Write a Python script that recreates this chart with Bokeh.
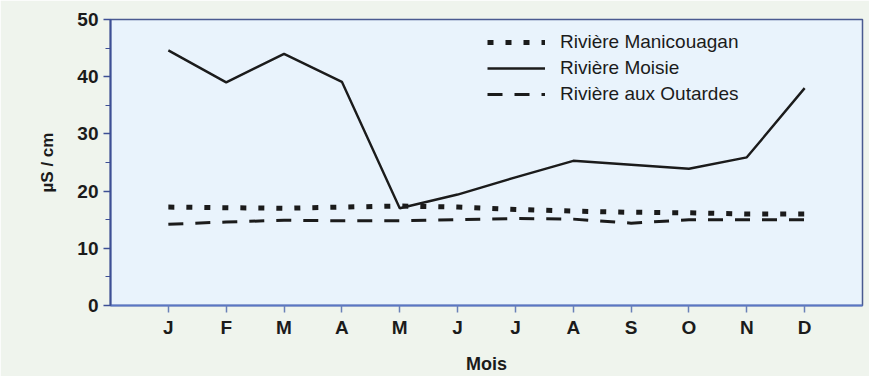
from bokeh.plotting import figure
from bokeh.models import Legend, LegendItem, FixedTicker, Range1d
from bokeh.embed import file_html
from bokeh.resources import INLINE

months = ["J", "F", "M", "A", "M", "J", "J", "A", "S", "O", "N", "D"]
month_pos = [1, 2, 3, 4, 5, 6, 7, 8, 9, 10, 11, 12]
manicouagan = [17.2, 17.1, 17.0, 17.2, 17.4, 17.2, 16.8, 16.5, 16.3, 16.2, 16.0, 16.0]
moisie = [44.6, 39.0, 44.0, 39.1, 17.0, 19.4, 22.4, 25.3, 24.6, 23.9, 25.9, 38.0]
outardes = [14.2, 14.6, 14.9, 14.8, 14.8, 15.0, 15.2, 15.1, 14.4, 15.0, 15.0, 15.0]
series_names = ["Rivière Manicouagan", "Rivière Moisie", "Rivière aux Outardes"]
y_ticks = [0, 10, 20, 30, 40, 50]

FONT = "Liberation Sans"
INK = "#1b1b1b"

p = figure(width=869, height=376, output_backend="svg", toolbar_location=None,
           x_range=Range1d(0, 13), y_range=Range1d(0, 50),
           min_border_left=110, min_border_top=19, min_border_bottom=69, min_border_right=7)
p.background_fill_color = "#e9f3fc"
p.border_fill_color = "#eff4ed"
p.outline_line_color = "#4a5a90"
p.outline_line_width = 1.5
p.grid.visible = False

r1 = p.line(month_pos, manicouagan, line_color=INK, line_width=5, line_dash="6 12")
r2 = p.line(month_pos, moisie, line_color=INK, line_width=2.4)
r3 = p.line(month_pos, outardes, line_color=INK, line_width=3, line_dash="15 12")

# axes
p.xaxis.ticker = FixedTicker(ticks=month_pos)
p.xaxis.major_label_overrides = {m: lab for m, lab in zip(month_pos, months)}
p.xaxis.axis_label = "Mois"
p.xaxis.axis_label_text_font = FONT
p.xaxis.axis_label_text_font_style = "bold"
p.xaxis.axis_label_text_font_size = "18px"
p.xaxis.axis_label_text_color = INK
p.xaxis.axis_label_standoff = 13
p.xaxis.major_label_text_font = FONT
p.xaxis.major_label_text_font_size = "19px"
p.xaxis.major_label_text_font_style = "bold"
p.xaxis.major_label_text_color = INK
p.xaxis.major_label_standoff = 4
p.xaxis.axis_line_color = "#5a76c4"
p.xaxis.axis_line_width = 2
p.xaxis.major_tick_line_color = "#6a80b8"
p.xaxis.major_tick_line_width = 1.5
p.xaxis.major_tick_out = 7
p.xaxis.major_tick_in = 0
p.xaxis.minor_tick_line_color = None

p.yaxis.ticker = FixedTicker(ticks=y_ticks, minor_ticks=[5, 15, 25, 35, 45])
p.yaxis.axis_label = "µS / cm"
p.yaxis.axis_label_text_font = FONT
p.yaxis.axis_label_text_font_style = "bold"
p.yaxis.axis_label_text_font_size = "17px"
p.yaxis.axis_label_text_color = INK
p.yaxis.axis_label_standoff = 17
p.yaxis.major_label_text_font = FONT
p.yaxis.major_label_text_font_size = "19px"
p.yaxis.major_label_text_font_style = "bold"
p.yaxis.major_label_text_color = INK
p.yaxis.major_label_standoff = 5
p.yaxis.axis_line_color = "#3d4f95"
p.yaxis.axis_line_width = 2
p.yaxis.major_tick_line_color = "#3d4f95"
p.yaxis.major_tick_line_width = 1.5
p.yaxis.major_tick_out = 7
p.yaxis.major_tick_in = 0
p.yaxis.minor_tick_line_color = "#3d4f95"
p.yaxis.minor_tick_out = 5
p.yaxis.minor_tick_in = 0

legend = Legend(items=[LegendItem(label=series_names[0], renderers=[r1]),
                       LegendItem(label=series_names[1], renderers=[r2]),
                       LegendItem(label=series_names[2], renderers=[r3])],
                location=(377, 200))
legend.background_fill_alpha = 0
legend.border_line_color = None
legend.glyph_width = 58
legend.glyph_height = 20
legend.label_height = 20
legend.spacing = 4
legend.padding = 0
legend.margin = 0
legend.label_standoff = 15
legend.label_text_font = FONT
legend.label_text_font_size = "19px"
legend.label_text_color = INK
p.add_layout(legend)

html = file_html(p, INLINE)
html = html.replace("<body>", '<body style="background:#eff4ed">', 1)
open("out.html", "w").write(html)
